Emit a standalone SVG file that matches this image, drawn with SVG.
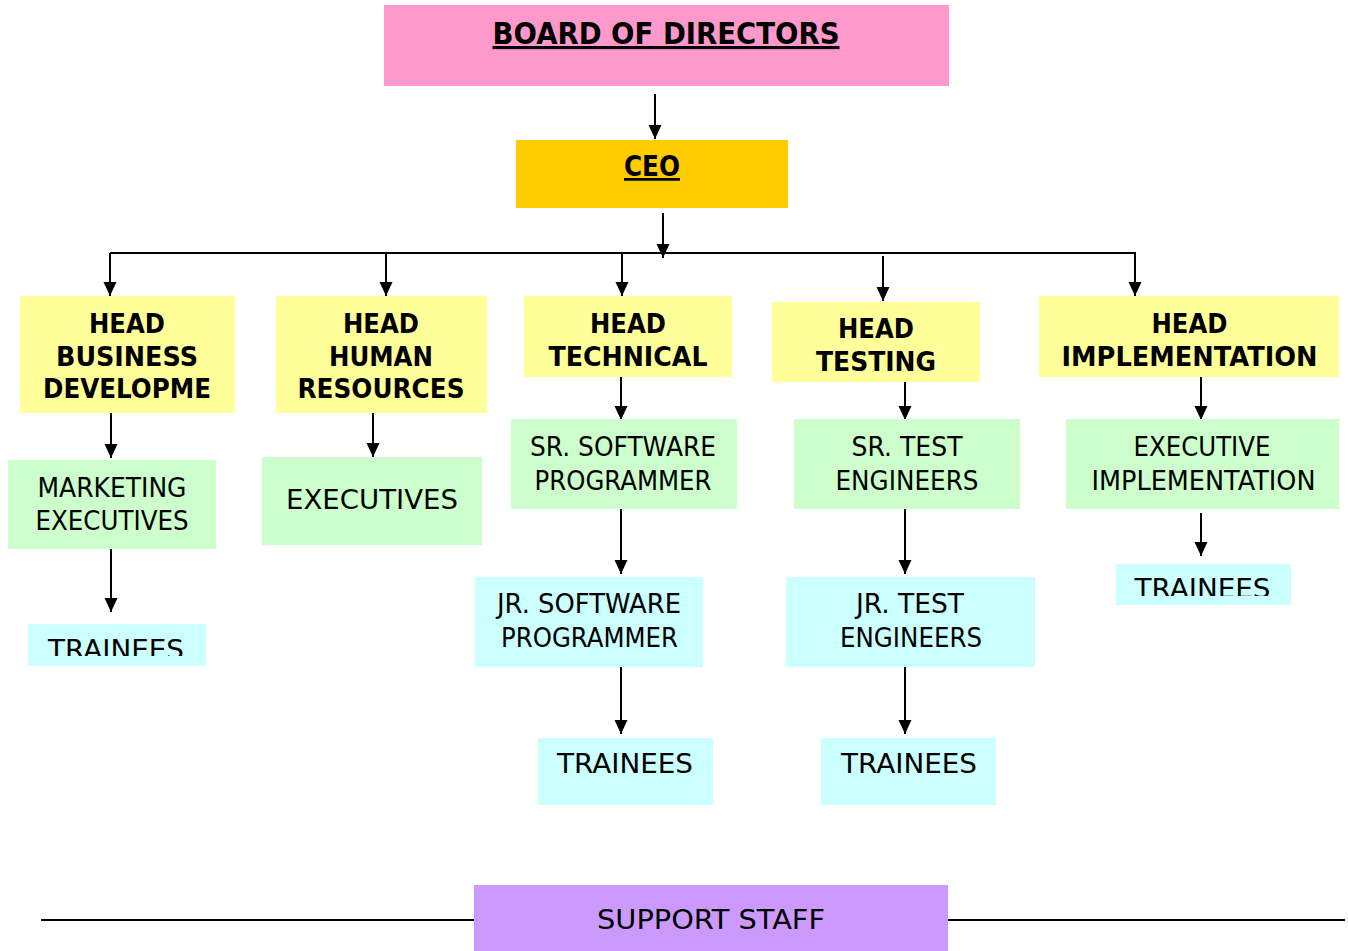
<svg xmlns="http://www.w3.org/2000/svg" width="1348" height="951" viewBox="0 0 1348 951">
<style>
text{font-family:"DejaVu Sans","Liberation Sans",sans-serif;fill:#000;text-anchor:middle}
.b{font-weight:bold;font-size:26px}
.n{font-size:26px}
.t{font-weight:bold;text-decoration:underline}
.pink{fill:#FF99CC}.gold{fill:#FFCC00}.yel{fill:#FFFF99}.grn{fill:#CCFFCC}.cyn{fill:#CCFFFF}.pur{fill:#CC99FF}
.c line{stroke:#000;stroke-width:2;fill:none}
.c .a{marker-end:url(#ah)}
</style>
<defs>
<marker id="ah" markerUnits="userSpaceOnUse" viewBox="0 0 14 14" refX="14" refY="7" markerWidth="14" markerHeight="14" orient="auto">
<path d="M0,0.5 L14,7 L0,13.5 z" fill="#000"/>
</marker>
<clipPath id="clipL"><rect x="28" y="624" width="178" height="32"/></clipPath>
<clipPath id="clipR"><rect x="1116" y="564" width="175" height="32"/></clipPath>
</defs>
<rect width="1348" height="951" fill="#fff"/>
<g class="c" id="connectors">
<line x1="41" y1="920" x2="1345" y2="920"/>
<line class="a" x1="655" y1="94" x2="655" y2="139"/>
<line x1="110" y1="253" x2="1136" y2="253"/>
<line class="a" x1="663" y1="213" x2="663" y2="258"/>
<line class="a" x1="110" y1="253" x2="110" y2="296"/>
<line class="a" x1="386" y1="253" x2="386" y2="296"/>
<line class="a" x1="622" y1="253" x2="622" y2="296"/>
<line class="a" x1="883" y1="256" x2="883" y2="301"/>
<line class="a" x1="1135" y1="253" x2="1135" y2="296"/>
<line class="a" x1="111" y1="413" x2="111" y2="458"/>
<line class="a" x1="111" y1="545" x2="111" y2="612"/>
<line class="a" x1="373" y1="413" x2="373" y2="457"/>
<line class="a" x1="621" y1="377" x2="621" y2="420"/>
<line class="a" x1="621" y1="507" x2="621" y2="574"/>
<line class="a" x1="621" y1="667" x2="621" y2="734"/>
<line class="a" x1="905" y1="377" x2="905" y2="420"/>
<line class="a" x1="905" y1="507" x2="905" y2="574"/>
<line class="a" x1="905" y1="667" x2="905" y2="734"/>
<line class="a" x1="1201" y1="377" x2="1201" y2="420"/>
<line class="a" x1="1201" y1="513" x2="1201" y2="556"/>
</g>
<g id="board"><rect class="pink" x="384" y="5" width="565" height="81"/>
<text class="t" x="666" y="44" font-size="31" textLength="347" lengthAdjust="spacingAndGlyphs">BOARD OF DIRECTORS</text></g>
<g id="ceo"><rect class="gold" x="516" y="140" width="272" height="68"/>
<text class="t" x="652" y="176" font-size="27.5" textLength="56" lengthAdjust="spacingAndGlyphs">CEO</text></g>
<g id="head-bd"><rect class="yel" x="20" y="296" width="215" height="117"/>
<text class="b" x="127" y="333" textLength="76" lengthAdjust="spacingAndGlyphs">HEAD</text>
<text class="b" x="127" y="366" textLength="142" lengthAdjust="spacingAndGlyphs">BUSINESS</text>
<text class="b" x="127" y="398" textLength="168" lengthAdjust="spacingAndGlyphs">DEVELOPME</text></g>
<g id="head-hr"><rect class="yel" x="276" y="296" width="211" height="117"/>
<text class="b" x="381" y="333" textLength="76" lengthAdjust="spacingAndGlyphs">HEAD</text>
<text class="b" x="381" y="366" textLength="104" lengthAdjust="spacingAndGlyphs">HUMAN</text>
<text class="b" x="381" y="398" textLength="167" lengthAdjust="spacingAndGlyphs">RESOURCES</text></g>
<g id="head-tech"><rect class="yel" x="524" y="296" width="208" height="81"/>
<text class="b" x="628" y="333" textLength="76" lengthAdjust="spacingAndGlyphs">HEAD</text>
<text class="b" x="628" y="366" textLength="159" lengthAdjust="spacingAndGlyphs">TECHNICAL</text></g>
<g id="head-test"><rect class="yel" x="772" y="302" width="208" height="80"/>
<text class="b" x="876" y="338" textLength="76" lengthAdjust="spacingAndGlyphs">HEAD</text>
<text class="b" x="876" y="371" textLength="120" lengthAdjust="spacingAndGlyphs">TESTING</text></g>
<g id="head-impl"><rect class="yel" x="1039" y="296" width="300" height="81"/>
<text class="b" x="1189.5" y="333" textLength="76" lengthAdjust="spacingAndGlyphs">HEAD</text>
<text class="b" x="1189.5" y="366" textLength="256" lengthAdjust="spacingAndGlyphs">IMPLEMENTATION</text></g>
<g id="mkt-exec"><rect class="grn" x="8" y="460" width="208" height="89"/>
<text class="n" x="112" y="497" textLength="149" lengthAdjust="spacingAndGlyphs">MARKETING</text>
<text class="n" x="112" y="530" textLength="153" lengthAdjust="spacingAndGlyphs">EXECUTIVES</text></g>
<g id="hr-exec"><rect class="grn" x="262" y="457" width="220" height="88"/>
<text class="n" x="372" y="509" textLength="172" lengthAdjust="spacingAndGlyphs">EXECUTIVES</text></g>
<g id="sr-sw"><rect class="grn" x="511" y="419" width="226" height="90"/>
<text class="n" x="623" y="456" textLength="186" lengthAdjust="spacingAndGlyphs">SR. SOFTWARE</text>
<text class="n" x="623" y="490" textLength="177" lengthAdjust="spacingAndGlyphs">PROGRAMMER</text></g>
<g id="jr-sw"><rect class="cyn" x="475" y="577" width="228" height="90"/>
<text class="n" x="589" y="613" textLength="184" lengthAdjust="spacingAndGlyphs">JR. SOFTWARE</text>
<text class="n" x="589.5" y="647" textLength="177" lengthAdjust="spacingAndGlyphs">PROGRAMMER</text></g>
<g id="trainees-sw"><rect class="cyn" x="538" y="738" width="175" height="67"/>
<text class="n" x="625" y="773" textLength="136" lengthAdjust="spacingAndGlyphs">TRAINEES</text></g>
<g id="sr-test"><rect class="grn" x="794" y="419" width="226" height="90"/>
<text class="n" x="907" y="456" textLength="111" lengthAdjust="spacingAndGlyphs">SR. TEST</text>
<text class="n" x="907" y="490" textLength="143" lengthAdjust="spacingAndGlyphs">ENGINEERS</text></g>
<g id="jr-test"><rect class="cyn" x="786" y="577" width="249" height="90"/>
<text class="n" x="910" y="613" textLength="108" lengthAdjust="spacingAndGlyphs">JR. TEST</text>
<text class="n" x="911" y="647" textLength="142" lengthAdjust="spacingAndGlyphs">ENGINEERS</text></g>
<g id="trainees-test"><rect class="cyn" x="821" y="738" width="175" height="67"/>
<text class="n" x="909" y="773" textLength="136" lengthAdjust="spacingAndGlyphs">TRAINEES</text></g>
<g id="exec-impl"><rect class="grn" x="1066" y="419" width="273" height="90"/>
<text class="n" x="1202" y="456" textLength="137" lengthAdjust="spacingAndGlyphs">EXECUTIVE</text>
<text class="n" x="1203.5" y="490" textLength="224" lengthAdjust="spacingAndGlyphs">IMPLEMENTATION</text></g>
<g id="trainees-impl"><rect class="cyn" x="1116" y="564" width="175" height="41"/>
<text class="n" x="1202.5" y="598" clip-path="url(#clipR)" textLength="136" lengthAdjust="spacingAndGlyphs">TRAINEES</text></g>
<g id="trainees-bd"><rect class="cyn" x="28" y="624" width="178" height="42"/>
<text class="n" x="116" y="659" clip-path="url(#clipL)" textLength="136" lengthAdjust="spacingAndGlyphs">TRAINEES</text></g>
<g id="support"><rect class="pur" x="474" y="885" width="474" height="66"/>
<text class="n" x="711" y="929" textLength="228" lengthAdjust="spacingAndGlyphs">SUPPORT STAFF</text></g>
</svg>
